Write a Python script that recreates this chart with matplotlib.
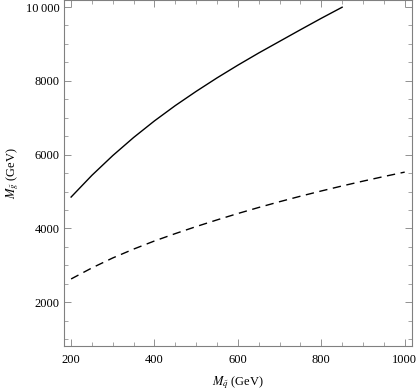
import matplotlib
matplotlib.use("Agg")
import matplotlib.pyplot as plt
from matplotlib.ticker import MultipleLocator, FuncFormatter

plt.rcParams['font.family'] = ['Liberation Serif', 'DejaVu Serif']
plt.rcParams['mathtext.fontset'] = 'stix'

# squark mass (GeV) and gluino mass bounds
msq_solid = [200, 250, 300, 350, 400, 450, 500, 550, 600, 650, 700, 750, 800, 850]
mgl_solid = [4850, 5440, 5975, 6465, 6915, 7330, 7715, 8080, 8425, 8755, 9070, 9385, 9695, 9995]

msq_dashed = [200, 250, 300, 350, 400, 450, 500, 550, 600, 650, 700, 750, 800, 850, 900, 950, 1000]
mgl_dashed = [2630, 2930, 3200, 3440, 3660, 3860, 4050, 4231, 4404, 4568, 4724, 4873, 5015, 5151, 5281, 5406, 5526]

fig = plt.figure(figsize=(4.17, 3.92), dpi=100)
ax = fig.add_axes([0.1535, 0.118, 0.834, 0.881])

ax.plot(msq_solid, mgl_solid, color='black', lw=1.0)
ax.plot(msq_dashed, mgl_dashed, color='black', lw=1.0, dashes=(6, 4))

ax.set_xlim(183, 1017)
ax.set_ylim(820, 10180)

ax.xaxis.set_major_locator(MultipleLocator(200))
ax.xaxis.set_minor_locator(MultipleLocator(50))
ax.yaxis.set_major_locator(MultipleLocator(2000))
ax.yaxis.set_minor_locator(MultipleLocator(500))


def fmt(v, pos):
    s = str(int(round(v)))
    if len(s) > 4:
        s = s[:-3] + '\u2009' + s[-3:]
    return s


ax.yaxis.set_major_formatter(FuncFormatter(fmt))

frame_col = '#808080'
for sp in ax.spines.values():
    sp.set_color(frame_col)
    sp.set_linewidth(0.8)
ax.tick_params(which='both', direction='in', top=True, right=True,
               color=frame_col, labelsize=9, labelcolor='black')
ax.tick_params(which='major', length=5, width=0.6)
ax.tick_params(which='minor', length=3, width=0.5)
ax.tick_params(axis='x', pad=6)
ax.tick_params(axis='y', pad=3)

ax.set_xlabel(r'$M_{\tilde{q}}$ (GeV)', fontsize=9, labelpad=6)
ax.set_ylabel(r'$M_{\tilde{g}}$ (GeV)', fontsize=9, labelpad=4)

fig.savefig('out.png', dpi=100)
